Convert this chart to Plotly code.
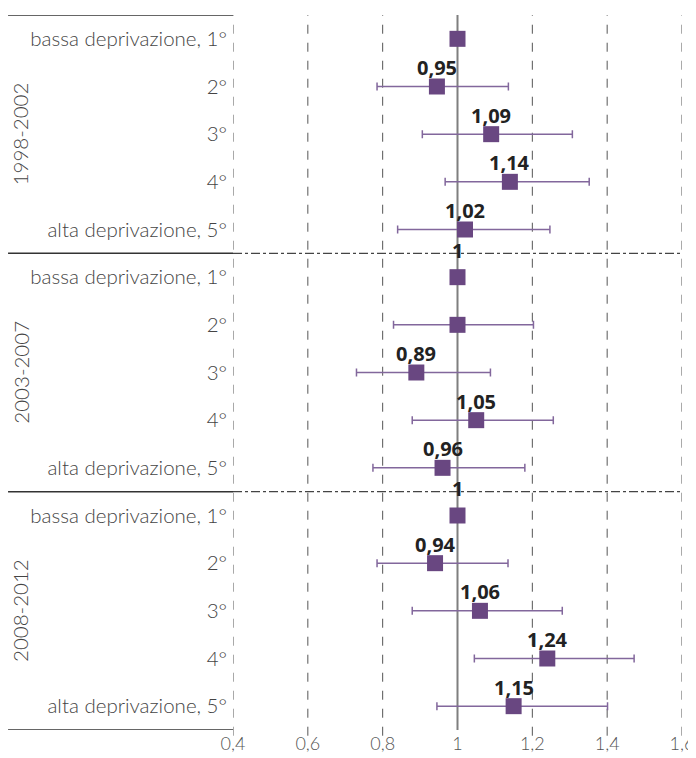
import plotly.graph_objects as go

periods = ["1998-2002", "2003-2007", "2008-2012"]
quintiles = ["bassa deprivazione, 1°", "2°", "3°", "4°", "alta deprivazione, 5°"]

rr_1998 = [1.00, 0.945, 1.09, 1.14, 1.02]
lo_1998 = [1.00, 0.785, 0.906, 0.967, 0.840]
hi_1998 = [1.00, 1.136, 1.307, 1.352, 1.247]

rr_2003 = [1.00, 1.00, 0.89, 1.05, 0.96]
lo_2003 = [1.00, 0.829, 0.730, 0.879, 0.774]
hi_2003 = [1.00, 1.203, 1.088, 1.256, 1.180]

rr_2008 = [1.00, 0.94, 1.06, 1.24, 1.15]
lo_2008 = [1.00, 0.785, 0.879, 1.045, 0.945]
hi_2008 = [1.00, 1.135, 1.280, 1.472, 1.401]

labels_1998 = ["", "0,95", "1,09", "1,14", "1,02"]
labels_2003 = ["1", "", "0,89", "1,05", "0,96"]
labels_2008 = ["1", "0,94", "1,06", "1,24", "1,15"]

x_ticks = [0.4, 0.6, 0.8, 1.0, 1.2, 1.4, 1.6]

rr = rr_1998 + rr_2003 + rr_2008
lo = lo_1998 + lo_2003 + lo_2008
hi = hi_1998 + hi_2003 + hi_2008
labels = labels_1998 + labels_2003 + labels_2008
cats = quintiles * 3
rows = list(range(len(rr)))

PURPLE = "#694781"
BAR = "#82679c"
LIGHT_FONT = dict(family="Lato, Open Sans, sans-serif", size=20.5, color="#444444", weight=300)

fig = go.Figure()
fig.add_trace(go.Scatter(
    x=rr, y=rows, mode="markers",
    marker=dict(symbol="square", size=16, color=PURPLE),
    error_x=dict(type="data", symmetric=False,
                 array=[h - r for h, r in zip(hi, rr)],
                 arrayminus=[r - l for r, l in zip(rr, lo)],
                 color=BAR, thickness=1.5, width=4),
    showlegend=False, hoverinfo="skip"))

for r, v, t in zip(rows, rr, labels):
    if not t:
        continue
    fig.add_annotation(x=v, y=r, text="<b>%s</b>" % t, showarrow=False,
                       xref="x", yref="y", yshift=27 if t == "1" else 19,
                       font=dict(family="Open Sans, Lato, sans-serif", size=20, color="#222222"))

shapes = []
for xv in x_ticks:
    if xv == 1.0:
        shapes.append(dict(type="line", xref="x", yref="paper", x0=xv, x1=xv, y0=0, y1=1,
                           line=dict(color="#7f7f7f", width=2), layer="below"))
    else:
        shapes.append(dict(type="line", xref="x", yref="paper", x0=xv, x1=xv, y0=-0.008, y1=1,
                           line=dict(color="#555555", width=1, dash="dash"), layer="below"))
for yb in [4.5, 9.5]:
    shapes.append(dict(type="line", xref="paper", yref="y", x0=0, x1=1, y0=yb, y1=yb,
                       line=dict(color="#444444", width=1.2, dash="dashdot"), layer="below"))
for yb in [-0.5, 4.5, 9.5, 14.5]:
    shapes.append(dict(type="line", xref="paper", yref="y", x0=-0.501, x1=0, y0=yb, y1=yb,
                       line=dict(color="#333333", width=1.5)))

for i, p in enumerate(periods):
    fig.add_annotation(x=-0.474, y=i * 5 + 2, xref="paper", yref="y", text=p,
                       textangle=-90, showarrow=False, xanchor="center", yanchor="middle",
                       font=LIGHT_FONT)

# page body adds an 8px offset; figure sized so the plot lands where the reference has it
fig.update_layout(
    width=688, height=750,
    margin=dict(l=225, r=14, t=7, b=28, autoexpand=False),
    plot_bgcolor="white", paper_bgcolor="white",
    separators=",.",
    shapes=shapes,
    xaxis=dict(range=[0.4, 1.6], tickvals=x_ticks, showgrid=False, zeroline=False,
               showline=False, ticks="", automargin=False, ticklabelstandoff=1,
               tickfont=dict(LIGHT_FONT, size=18, color="#555555")),
    yaxis=dict(range=[14.5, -0.5], tickvals=rows, ticktext=cats, showgrid=False,
               zeroline=False, showline=False, ticks="", ticklabelstandoff=5, automargin=False,
               tickfont=LIGHT_FONT),
)

fig.write_html("out.html")
